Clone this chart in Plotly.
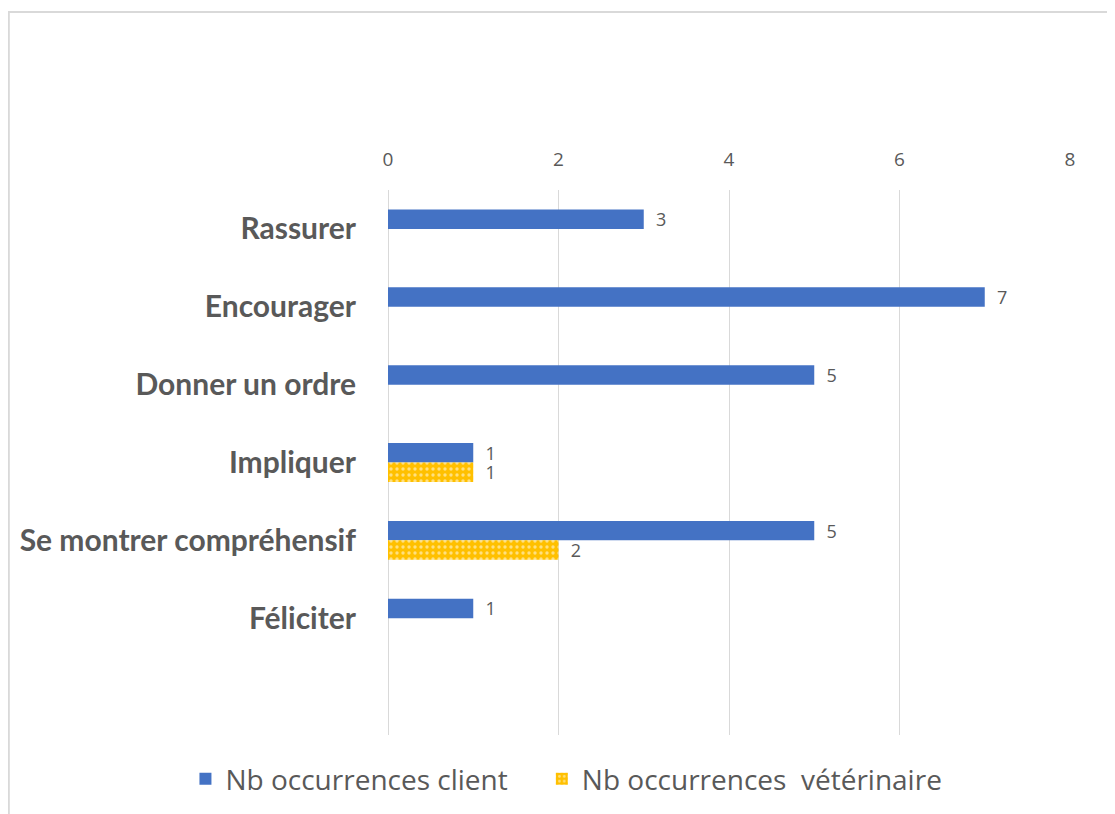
import plotly.graph_objects as go

# data
categories = ["Rassurer", "Encourager", "Donner un ordre", "Impliquer",
              "Se montrer compréhensif", "Féliciter", " "]
client = [3, 7, 5, 1, 5, 1, None]
veterinaire = [None, None, None, 1, 2, None, None]
x_ticks = [0, 2, 4, 6, 8]

BLUE = "#4472C4"
GOLD = "#FFC000"
GREY = "#595959"


def lbl(vals):
    return ["  " + str(v) if v is not None else "" for v in vals]


fig = go.Figure()

fig.add_trace(go.Bar(
    name="Nb occurrences client" + "\u00a0" * 4, y=categories, x=client, orientation="h",
    marker=dict(color=BLUE, line=dict(width=0)),
    text=lbl(client), textposition="outside", cliponaxis=False, constraintext="none",
    textfont=dict(family="Open Sans", size=18, color=GREY),
))
fig.add_trace(go.Bar(
    name="Nb occurrences  vétérinaire", y=categories, x=veterinaire, orientation="h",
    marker=dict(color=GOLD, line=dict(width=0),
                pattern=dict(shape=".", fgcolor="white", bgcolor=GOLD,
                             size=6, solidity=0.25)),
    text=lbl(veterinaire), textposition="outside", cliponaxis=False, constraintext="none",
    textfont=dict(family="Open Sans", size=18, color=GREY),
))

fig.update_layout(
    width=1115, height=814,
    margin=dict(l=375, r=53, t=182, b=87),
    paper_bgcolor="white", plot_bgcolor="white",
    barmode="group", bargap=0.5, bargroupgap=0,
    showlegend=True,
    legend=dict(orientation="h", x=-0.297, xanchor="left", y=-0.035, yanchor="top",
                font=dict(family="Open Sans", size=28, color=GREY)),
    font=dict(family="Open Sans", color=GREY),
    shapes=[dict(type="rect", xref="paper", yref="paper",
                 x0=-0.556, x1=1.3, y0=-0.4, y1=1.3266,
                 line=dict(color="#D9D9D9", width=2), layer="below")],
)

fig.update_xaxes(
    side="top", range=[0, 8], tickvals=x_ticks,
    showgrid=True, gridcolor="#D9D9D9", gridwidth=1,
    zeroline=True, zerolinecolor="#D9D9D9", zerolinewidth=1,
    showline=False,
    ticks="outside", ticklen=15, tickcolor="rgba(0,0,0,0)",
    tickfont=dict(family="Open Sans", size=19, color=GREY),
)
fig.update_yaxes(
    type="category", range=[6.5, -0.5],
    showgrid=False, zeroline=False, showline=False,
    ticks="outside", ticklen=25, tickcolor="rgba(0,0,0,0)",
    tickfont=dict(family="Lato", size=30, color=GREY, weight="bold"),
)

fig.write_html("out.html")
